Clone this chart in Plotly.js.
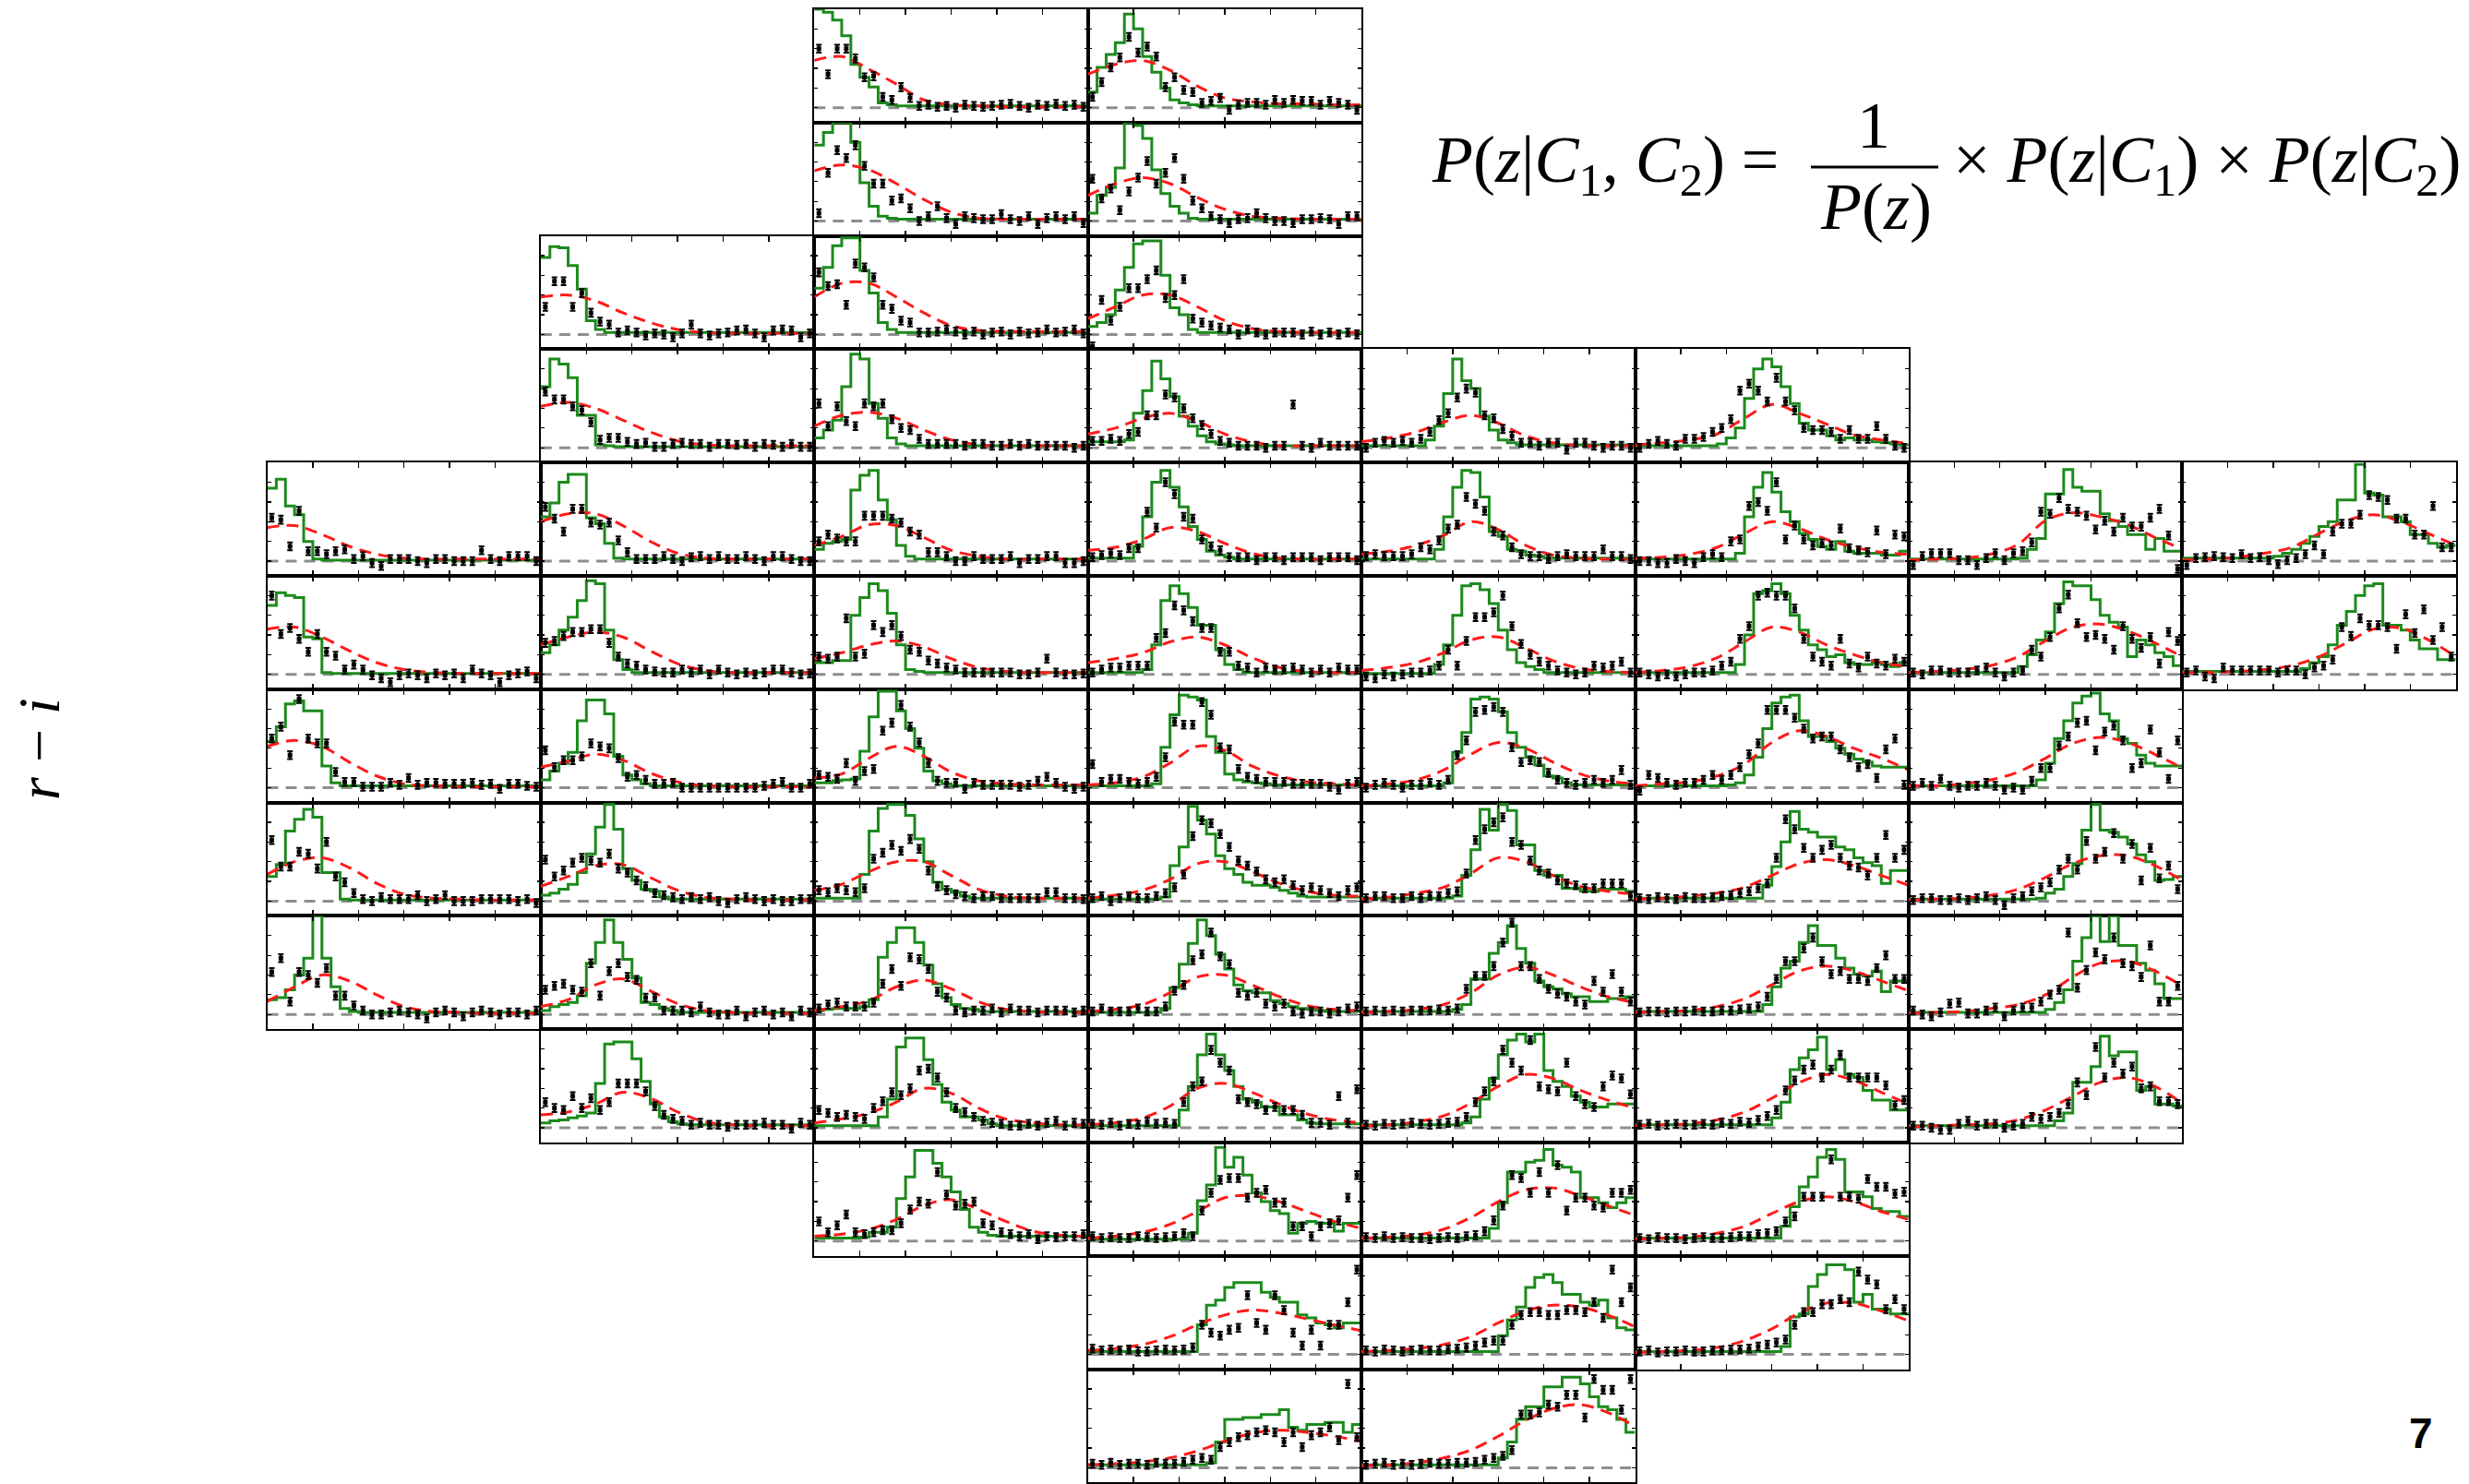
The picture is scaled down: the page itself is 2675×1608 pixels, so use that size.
<!DOCTYPE html>
<html><head><meta charset="utf-8">
<script src="https://cdn.plot.ly/plotly-3.0.1.min.js"></script>
<style>html,body{margin:0;padding:0;background:#fff;}#chart{width:2675px;height:1608px;}</style>
</head><body><div id="chart"></div>
<script>
// Panel grid: for each colour row, first and last occupied colour column
const rowStart = [2,2,1,1,0,0,0,0,0,1,2,3,3];
const rowEnd   = [3,3,3,5,7,7,6,6,6,6,5,5,4];

// Redshift axis
const zEdges = Array.from({length:31}, (_, i) => +(i*0.1).toFixed(1));
const zCenters = Array.from({length:30}, (_, i) => +(0.05 + i*0.1).toFixed(2));
const zModel = [0,0.3,0.6,0.9,1.2,1.5,1.8,2.1,2.4,2.7,3.0];

// Green histograms (row-major panel order)
const greenCounts = [
[100,97,89,73,44,31,21,5,3,2, 2,2,2,2,2,2,2,2,2,2, 2,2,2,2,2,2,2,2,2,2],
[16,41,54,66,95,80,52,36,20,8, 5,3,2,2,2,2,2,2,2,2, 2,2,2,2,2,2,2,2,2,2],
[77,90,100,100,80,39,15,5,3,2, 2,2,2,2,2,2,2,2,2,2, 2,2,2,2,2,2,2,2,2,2],
[8,26,34,54,100,97,84,52,28,15, 8,3,2,2,2,2,2,2,2,2, 2,2,2,2,2,2,2,2,2,2],
[78,89,88,70,46,14,5,2,2,2, 2,2,2,2,2,2,2,2,2,2, 2,2,2,2,2,2,2,2,2,2],
[47,68,90,98,98,65,42,12,5,2, 2,2,2,2,2,2,2,2,2,2, 2,2,2,2,2,2,2,2,2,2],
[8,12,20,45,68,92,95,95,60,27, 20,5,2,2,2,2,2,2,2,2, 2,2,2,2,2,2,2,2,2,2],
[62,90,85,71,33,33,3,2,1,1, 1,1,1,1,1,1,1,1,1,1, 1,1,1,1,1,1,1,1,1,1],
[10,18,28,62,95,90,45,30,10,4, 2,2,2,2,2,2,2,2,2,2, 2,2,2,2,2,2,2,2,2,2],
[6,6,6,6,8,35,58,88,70,52, 32,22,12,6,4,3,2,2,2,2, 2,2,2,2,2,2,2,2,2,2],
[2,2,2,2,2,2,2,8,22,55, 90,68,60,32,18,8,5,3,3,3, 3,3,3,3,3,3,3,3,3,3],
[2,2,2,2,2,2,2,2,2,4, 10,20,50,80,90,82,62,45,25,18, 18,12,8,10,8,8,6,5,4,3],
[74,83,56,47,20,2,1,1,1,1, 1,1,1,1,1,1,1,1,1,1, 1,1,1,1,1,1,1,1,1,1],
[45,59,80,88,88,44,38,18,3,2, 2,2,2,2,2,2,2,2,2,2, 2,2,2,2,2,2,2,2,2,2],
[12,18,20,22,72,87,92,62,42,16, 5,2,2,2,2,2,2,2,2,2, 2,2,2,2,2,2,2,2,2,2],
[3,3,3,3,3,15,45,80,92,75, 55,35,22,10,6,4,2,2,2,2, 2,2,2,2,2,2,2,2,2,2],
[2,2,2,2,2,2,2,2,12,45, 75,92,90,65,30,25,12,10,6,5, 3,3,3,3,3,3,3,3,3,3],
[2,2,2,2,2,2,2,2,2,2, 2,8,45,75,90,70,50,40,28,22, 15,12,20,10,8,8,8,6,6,10],
[2,2,2,2,2,2,2,2,2,2, 2,2,3,12,23,68,68,93,75,71, 71,48,41,35,27,27,12,23,10,10],
[3,3,3,3,3,3,3,3,3,3, 5,8,12,18,25,35,40,62,62,98, 69,67,45,45,40,27,27,18,14,16],
[70,83,80,78,38,36,2,1,1,1, 1,1,1,1,1,1,1,1,1,1, 1,1,1,1,1,1,1,1,1,1],
[22,30,45,58,75,95,92,45,15,5, 2,2,2,2,2,2,2,2,2,2, 2,2,2,2,2,2,2,2,2,2],
[12,12,14,14,60,78,92,85,62,30, 5,3,2,2,2,2,2,2,2,2, 2,2,2,2,2,2,2,2,2,2],
[2,2,2,2,2,2,5,30,75,90, 82,68,50,50,25,10,5,2,2,2, 2,2,2,2,2,2,2,2,2,2],
[1,1,1,1,1,1,1,1,10,30, 60,90,92,86,72,45,25,12,8,5, 2,2,2,2,2,2,2,2,2,2],
[2,2,2,2,2,2,2,2,2,2, 2,10,40,82,85,92,82,60,45,30, 25,18,20,12,10,10,12,10,8,12],
[2,2,2,2,2,2,2,2,2,2, 2,2,8,20,35,43,72,94,90,90, 76,60,53,48,18,35,30,22,18,9],
[3,3,3,3,3,3,3,3,3,3, 3,3,3,6,12,18,30,50,64,80, 90,92,50,50,45,35,26,26,15,15],
[47,62,85,88,78,78,22,5,2,2, 2,2,2,2,2,2,2,2,2,2, 2,2,2,2,2,2,2,2,2,2],
[8,17,25,36,68,89,89,75,32,13, 8,4,2,2,2,2,2,2,2,2, 2,2,2,2,2,2,2,2,2,2],
[5,5,7,8,9,37,72,98,98,78, 60,40,17,7,4,2,2,2,2,2, 2,2,2,2,2,2,2,2,2,2],
[2,2,2,2,2,2,2,4,41,74, 94,92,89,52,36,14,8,6,5,4, 3,3,3,3,3,3,3,3,3,3],
[2,2,2,2,2,2,2,2,2,5, 36,56,90,92,90,77,56,41,31,23, 12,10,5,3,3,3,3,3,3,3],
[2,2,2,2,2,2,2,2,2,2, 3,5,13,31,60,86,92,94,68,52, 52,47,40,34,29,26,22,21,21,21],
[2,2,2,2,2,2,2,2,2,2, 2,2,2,2,8,25,50,68,86,93, 96,75,68,50,45,33,25,22,22,22],
[25,37,71,83,93,85,29,29,2,1, 1,1,1,1,1,1,1,1,1,1, 1,1,1,1,1,1,1,1,1,1],
[6,8,12,17,29,48,75,98,73,33, 21,12,10,4,2,2,2,2,2,2, 2,2,2,2,2,2,2,2,2,2],
[3,3,3,3,3,27,71,94,98,98, 87,63,40,19,12,9,5,3,3,3, 3,3,3,3,3,3,3,3,3,3],
[2,2,2,2,2,2,2,2,4,36, 55,96,82,68,46,33,27,19,16,16, 14,11,8,5,4,4,4,4,4,4],
[3,3,3,3,3,3,3,3,3,3, 5,26,52,93,72,98,92,57,57,31, 26,26,13,13,10,10,12,12,12,10],
[3,3,3,3,3,3,3,3,3,3, 3,3,3,3,16,35,60,91,73,70, 65,65,55,52,44,39,36,18,31,31],
[2,2,2,2,2,2,2,2,2,2, 2,2,2,2,3,8,12,25,38,72, 98,72,70,65,58,47,40,21,22,25],
[15,17,25,40,57,100,57,28,6,3, 2,2,2,2,2,2,2,2,2,2, 2,2,2,2,2,2,2,2,2,2],
[4,8,10,12,19,52,73,96,73,56, 37,12,10,6,4,2,2,2,2,2, 2,2,2,2,2,2,2,2,2,2],
[4,5,6,6,6,8,15,58,73,88, 88,73,50,31,17,10,6,5,3,3, 3,3,3,3,3,3,3,3,3,3],
[2,2,2,2,2,2,2,2,6,27, 51,72,96,80,61,46,30,24,22,22, 14,11,8,6,5,4,3,3,3,3],
[3,3,3,3,3,3,3,3,3,3, 5,10,36,36,62,73,90,67,52,34, 28,26,21,18,18,13,13,16,16,18],
[3,3,3,3,3,3,3,3,3,3, 3,3,3,3,10,28,47,54,73,90, 70,70,57,47,41,39,44,23,34,34],
[2,2,2,2,2,2,2,2,2,2, 2,2,2,2,2,5,12,25,54,78, 100,74,100,70,70,52,45,31,16,16],
[5,7,8,10,12,15,45,85,87,87, 70,47,24,11,6,4,3,3,3,3, 3,3,3,3,3,3,3,3,3,3],
[2,2,2,2,2,2,2,11,29,82, 91,91,69,44,26,18,11,11,8,4, 2,2,2,2,2,2,2,2,2,2],
[2,2,2,2,2,2,2,2,2,2, 18,42,74,95,74,58,42,29,26,21, 21,13,13,8,5,4,4,4,4,4],
[3,3,3,3,3,3,3,3,3,3, 3,5,11,29,50,74,89,95,87,95, 58,47,42,32,26,21,21,24,24,24],
[3,3,3,3,3,3,3,3,3,3, 3,3,3,3,3,10,26,59,71,79, 92,59,69,54,51,38,28,28,18,18],
[2,2,2,2,2,2,2,2,2,2, 2,2,2,2,2,2,7,15,46,46, 62,93,73,77,77,38,42,24,24,22],
[3,3,3,3,3,4,9,9,14,43, 65,92,92,79,65,50,32,14,9,6, 5,5,5,5,5,5,5,5,5,5],
[2,2,2,2,2,2,2,2,2,2, 2,8,41,57,95,75,85,67,49,40, 31,28,8,18,20,18,18,10,18,18],
[3,3,3,3,3,3,3,3,3,3, 3,3,3,3,13,39,70,70,80,82, 93,77,75,70,44,44,39,34,39,44],
[3,3,3,3,3,3,3,3,3,3, 3,3,3,3,3,3,15,35,55,65, 85,93,83,50,50,45,33,30,30,25],
[3,3,3,3,3,3,3,3,3,3, 3,3,30,50,55,68,73,73,73,63, 58,53,53,40,37,32,30,27,32,32],
[3,3,3,3,3,3,3,3,3,3, 3,3,3,3,3,19,35,48,68,78, 81,73,61,61,53,50,55,37,27,25],
[3,3,3,3,3,3,3,3,3,3, 3,3,3,3,3,3,8,38,41,69, 81,91,91,86,53,61,46,46,41,41],
[3,3,3,3,3,3,3,3,3,3, 3,3,3,5,26,49,49,51,51,54, 54,59,41,38,44,44,46,46,36,44],
[3,3,3,3,3,3,3,3,3,3, 3,3,3,3,3,10,26,49,62,62, 82,82,92,92,85,72,62,59,49,36]
];

// Black points with error bars
const blackPoints = [
[60,34,60,60,50,31,32,11,8,21, 10,2,3,1,2,0,3,2,1,2, 3,4,2,0,3,2,4,2,3,1],
[11,26,41,51,72,56,62,52,21,31, 18,16,5,7,10,-2,3,5,5,3, 8,5,8,7,7,3,7,5,3,-2],
[8,49,72,64,77,56,38,38,21,23, 13,0,5,15,3,-3,5,3,2,2, 7,2,0,5,-3,3,5,2,5,-2],
[43,23,33,11,30,44,61,38,49,64, 43,21,13,5,2,-2,2,3,8,3, 0,0,-2,2,2,3,2,-3,5,5],
[28,54,54,28,42,22,13,10,2,4, 2,-1,1,0,-3,1,10,1,-1,1, 2,4,5,1,-3,4,5,4,-3,1],
[63,49,51,30,72,68,58,30,26,14, 12,2,2,3,5,3,0,3,0,2, 3,0,3,1,2,5,2,3,5,1],
[-12,35,14,28,47,47,56,65,37,40, 56,16,12,9,7,5,0,5,2,0, 2,2,2,0,3,0,2,0,2,0],
[57,49,49,42,38,26,8,10,10,6, 4,5,1,1,4,5,4,4,1,4, 4,3,4,1,4,3,1,4,1,1],
[45,22,42,27,22,45,42,45,29,20, 18,9,4,4,4,4,2,4,4,2, 2,4,2,4,2,2,2,2,0,2],
[7,7,9,7,14,16,33,33,54,51, 40,30,23,14,7,5,2,2,2,0, 2,2,44,2,0,5,2,2,2,2],
[0,5,7,5,7,5,9,16,28,35, 51,60,56,33,30,19,12,5,5,2, 5,5,-2,5,5,2,0,2,2,0],
[0,4,7,4,2,9,9,11,16,20, 29,58,65,58,47,71,47,38,20,18, 18,16,9,18,9,9,22,9,2,0],
[44,42,15,51,10,10,7,10,12,2, 5,-2,-5,2,2,2,0,-2,2,2, 0,0,0,11,2,0,5,5,5,0],
[55,43,30,53,53,39,37,39,21,9, 2,2,2,5,2,0,4,5,2,5, 2,2,5,2,0,5,5,2,0,0],
[20,27,23,20,20,46,46,46,43,39, 30,27,9,9,5,0,0,5,2,2, 2,5,-2,2,2,5,5,-2,-2,0],
[4,6,8,6,13,13,50,34,80,68, 45,43,22,15,11,4,4,4,1,4, 4,1,4,4,4,1,4,4,4,1],
[5,7,5,5,5,7,14,12,21,33, 37,65,58,51,30,26,14,7,5,5, 2,5,7,5,5,5,12,5,5,2],
[0,0,-2,-2,2,0,-2,4,7,4, 20,22,56,60,51,80,22,36,22,16, 18,16,33,13,11,9,31,7,27,25],
[-4,5,8,8,8,1,1,-4,3,8, 1,8,10,19,50,48,64,53,50,46, 32,41,30,44,35,35,44,53,26,-8],
[-4,3,4,5,4,3,7,3,4,1, -3,1,3,7,16,7,30,38,38,47, 67,65,62,43,43,27,27,56,14,14],
[80,41,47,36,23,41,23,19,5,10, 5,-1,-4,-8,-1,1,-1,-4,1,-1, 1,-4,5,1,-1,-8,-1,1,3,-4],
[32,34,39,43,43,46,46,32,18,11, 9,5,3,2,2,5,2,5,0,5, 2,0,2,0,2,5,5,2,0,1],
[18,16,18,57,18,21,50,43,50,39, 25,23,14,11,7,5,2,2,2,2, 2,2,0,0,2,16,2,0,0,1],
[2,5,7,7,9,9,9,37,42,70, 65,54,47,47,23,23,9,7,2,7, 5,5,7,5,2,5,2,7,5,5],
[-2,-4,0,-2,0,2,2,4,9,25, 9,34,58,58,63,80,49,31,20,13, 9,4,2,0,2,9,7,9,13,2],
[2,0,-2,0,-2,0,2,2,4,9, 13,36,49,80,83,80,80,67,36,18, 13,9,36,11,7,18,11,9,16,13],
[2,0,4,4,2,2,2,4,7,2, -2,2,4,25,18,38,67,81,52,38, 40,36,25,49,36,27,38,11,43,34],
[2,4,-2,-4,7,4,4,4,4,4, 2,4,4,0,7,9,15,48,39,57, 50,50,48,26,61,42,66,35,48,18],
[50,62,33,90,50,45,45,16,6,6, 1,1,1,5,3,10,3,5,5,4, 4,4,5,3,4,-1,4,4,2,1],
[38,21,28,28,32,45,42,40,30,11, 13,8,4,4,5,0,0,0,0,0, 0,0,0,0,2,4,6,0,0,4],
[13,11,9,25,7,17,19,58,66,84, 62,46,25,7,5,5,-1,5,3,3, 3,3,1,3,7,11,5,1,-1,1],
[24,6,9,9,6,4,6,11,31,67, 64,64,87,74,41,39,19,11,9,6, 6,6,4,4,4,4,1,-2,4,6],
[0,3,5,3,0,3,3,5,3,8, 33,48,77,79,82,77,41,26,28,26, 15,8,5,3,5,8,5,8,18,3],
[-3,13,10,5,3,5,5,8,13,8, 13,21,34,45,79,79,79,71,60,50, 52,52,39,31,21,24,10,39,50,3],
[2,5,2,9,2,0,2,2,5,2, -2,0,-2,7,20,20,43,52,66,68, 38,57,63,48,20,25,59,36,9,48],
[62,35,35,50,48,33,60,25,19,8, 2,0,4,2,2,2,6,0,2,6, 0,0,0,2,2,2,2,0,2,-2],
[42,25,31,39,44,41,39,48,33,29, 21,15,8,6,4,2,4,2,4,0, -2,2,4,2,0,2,0,0,2,2],
[11,9,13,11,9,13,43,49,57,51, 63,53,31,15,11,7,5,3,5,5, 3,3,3,3,3,9,9,3,3,2],
[3,5,0,3,5,3,3,5,8,14, 27,66,82,79,68,55,41,36,30,22, 19,22,16,11,14,11,8,5,11,14],
[3,5,5,3,3,5,3,5,5,8, 10,28,62,73,80,85,60,57,41,31, 28,21,18,16,13,13,18,18,18,5],
[3,2,4,3,2,4,3,3,4,5, 6,8,10,13,18,44,83,73,54,44, 52,57,44,36,34,26,44,67,44,52],
[1,3,3,1,1,3,1,3,5,1, -4,3,5,10,14,19,32,43,32,61, 43,50,69,43,58,21,54,23,36,12],
[43,57,13,43,40,32,47,19,19,9, 4,0,0,2,4,2,0,-4,2,4, 2,-2,2,4,2,0,2,2,0,4],
[25,29,31,25,23,52,19,44,52,38, 35,17,17,4,4,4,2,8,2,0, 0,4,-2,2,4,0,2,-2,4,2],
[6,10,12,8,8,8,12,31,46,29, 58,56,46,23,17,4,2,4,4,6, 2,6,4,4,2,4,4,4,2,4],
[3,6,3,3,3,6,3,3,8,24, 30,55,61,83,59,51,22,19,22,11, 8,11,3,1,3,3,1,3,6,8],
[3,4,3,4,3,4,4,4,5,4, 6,26,39,39,49,73,93,49,49,36, 26,21,18,13,10,34,23,41,23,13],
[2,3,3,2,3,3,4,3,3,4, 4,5,6,8,18,36,54,54,67,78, 54,41,44,36,36,34,47,60,36,36],
[4,0,-2,2,11,12,1,1,4,7, -2,4,7,7,13,20,25,83,27,45, 63,56,78,52,49,38,70,13,13,29],
[26,20,18,32,20,30,18,26,45,45, 45,37,22,13,9,7,3,5,3,3, 1,3,3,3,5,3,3,-1,5,3],
[18,15,11,13,11,9,20,27,36,33, 40,58,60,51,36,20,16,11,7,5, 4,2,2,4,2,5,7,2,5,4],
[4,3,5,2,4,3,6,4,5,4, 26,42,47,79,66,58,29,26,24,18, 21,18,18,13,5,5,3,32,5,39],
[3,2,4,3,4,5,4,3,4,5, 6,11,26,37,47,79,66,58,89,42, 39,37,66,32,24,21,42,53,50,34],
[3,4,2,3,4,3,3,4,3,5, 4,6,5,8,12,18,38,48,59,64, 51,59,74,51,51,51,51,43,23,28],
[2,2,0,-2,-2,4,7,2,4,4, 0,2,4,11,9,11,15,24,46,33, 82,51,66,55,62,40,42,27,27,24],
[20,9,16,27,9,7,9,11,11,18, 32,40,38,70,47,36,38,40,18,16, 9,7,5,7,2,5,4,5,5,7],
[5,3,4,3,3,5,4,3,4,5, 8,5,31,49,62,64,64,44,49,52, 39,39,15,15,5,15,18,21,44,67],
[4,3,5,3,4,3,3,2,3,4, 3,5,6,10,21,36,67,64,49,70, 49,77,31,44,44,36,34,49,49,52],
[3,2,4,3,3,2,3,4,3,3, 4,5,5,7,8,10,20,25,45,45, 45,83,45,45,43,63,55,55,48,50],
[6,4,5,4,5,3,3,4,5,4, 5,7,30,22,19,25,27,60,32,25, 60,45,22,9,25,9,30,30,53,86],
[4,3,5,4,3,4,5,4,4,5, 6,7,9,12,14,14,30,40,43,43, 40,40,45,45,43,53,37,86,53,68],
[3,4,2,3,3,4,3,3,4,4, 5,5,6,8,10,12,15,30,43,43, 51,51,56,53,84,76,71,46,56,46],
[4,3,5,3,4,4,3,5,4,4, 6,8,10,8,21,26,31,33,36,38, 36,26,36,21,33,36,41,28,85,31],
[3,4,5,3,4,3,4,5,4,4, 5,5,6,8,10,12,18,54,54,56, 64,62,74,74,51,90,79,79,59,90]
];

// Red dashed model curves, sampled at zModel
const redModel = [
[48,52,39,24,8,3,2,1,1,1,1],
[34,44,48,38,22,10,6,4,4,3,3],
[51,57,52,38,22,9,3,2,2,2,2],
[26,38,44,38,24,12,5,3,2,2,2],
[38,40,34,22,12,5,2,1,1,1,1],
[38,52,52,38,22,9,4,3,3,3,3],
[16,28,40,40,28,14,6,3,2,2,2],
[42,46,40,28,16,7,3,2,2,2,2],
[22,33,36,30,18,8,3,2,2,2,2],
[14,20,30,35,27,14,6,2,2,2,2],
[6,10,16,26,33,25,12,5,2,2,2],
[3,5,8,14,30,44,35,24,13,8,4],
[34,36,27,15,7,3,2,2,2,2,2],
[40,48,48,36,20,8,3,2,2,2,2],
[16,25,37,36,24,11,5,2,2,2,2],
[11,14,22,34,30,18,8,3,2,2,2],
[7,10,16,26,40,32,16,6,3,2,2],
[3,4,7,14,28,40,33,22,14,9,7],
[1,2,3,7,17,41,49,45,37,24,12],
[1,2,4,8,14,28,41,47,40,28,16],
[46,48,38,24,12,5,2,1,1,1,1],
[30,38,43,38,24,11,4,2,2,2,2],
[16,22,30,34,28,16,7,3,2,2,2],
[12,16,22,33,38,30,17,7,3,2,2],
[4,7,12,22,35,38,27,14,6,3,2],
[2,4,8,17,33,48,43,30,20,12,8],
[2,3,5,9,18,34,48,51,44,32,18],
[2,2,3,5,9,18,32,46,47,35,18],
[42,48,42,26,12,4,2,1,1,1,1],
[21,27,34,28,15,6,2,1,1,1,1],
[10,14,30,42,32,16,7,4,3,3,3],
[3,5,11,25,42,38,22,12,6,4,3],
[2,4,8,18,34,46,40,26,14,7,4],
[2,4,6,12,24,46,58,52,40,30,18],
[2,2,4,8,16,30,45,51,46,34,20],
[27,40,44,34,18,7,3,2,1,1,1],
[15,25,36,37,24,11,4,2,1,1,1],
[11,17,30,40,40,26,12,5,3,3,3],
[3,6,11,22,38,40,30,18,10,6,5],
[2,4,8,14,28,44,40,26,15,10,7],
[2,3,5,8,14,26,38,42,36,26,16],
[1,2,3,6,12,24,38,46,46,36,21],
[13,28,40,34,20,8,3,2,1,1,1],
[8,15,30,36,24,11,4,2,1,1,1],
[4,8,14,28,35,26,13,5,3,2,2],
[3,5,10,22,38,40,30,18,9,5,4],
[2,3,5,10,22,40,48,40,28,18,12],
[2,3,4,8,16,30,44,49,44,34,24],
[1,2,3,6,10,20,38,52,54,44,29],
[13,16,24,36,30,16,6,3,2,2,2],
[5,9,15,26,40,35,20,9,5,3,3],
[3,5,10,22,40,45,36,24,14,8,5],
[2,3,6,12,25,42,54,50,38,28,20],
[2,3,4,8,16,30,46,54,48,36,24],
[1,2,3,4,8,18,32,46,51,42,25],
[5,7,12,22,36,42,32,20,10,6,5],
[3,5,9,17,30,44,46,40,30,20,13],
[3,4,6,12,24,40,52,54,46,36,26],
[2,3,4,8,15,28,40,45,40,30,22],
[4,6,10,18,30,40,45,42,36,30,24],
[3,4,6,10,18,32,44,50,48,40,28],
[2,3,4,7,14,26,42,52,52,44,34],
[3,4,6,10,17,27,35,38,36,32,27],
[2,3,5,10,18,32,48,60,64,56,42]
];

// ---- layout geometry ----
const W = 2675, H = 1608;
const GX0 = 289.5, GCW = 296.4, GY0 = 10, GRH = 122.8;

const traces = [];
const layout = {
  width: W, height: H,
  margin: {l:0, r:0, t:0, b:0},
  paper_bgcolor: '#fff', plot_bgcolor: '#fff',
  showlegend: false,
  shapes: [], annotations: []
};

let k = 0;
for (let r = 0; r < rowStart.length; r++) {
  for (let c = rowStart[r]; c <= rowEnd[r]; c++) {
    const n = k + 1;
    const xa = n === 1 ? 'x' : 'x' + n;
    const ya = n === 1 ? 'y' : 'y' + n;
    const xKey = n === 1 ? 'xaxis' : 'xaxis' + n;
    const yKey = n === 1 ? 'yaxis' : 'yaxis' + n;
    const x0 = (GX0 + c*GCW) / W, x1 = (GX0 + (c+1)*GCW) / W;
    const yTop = 1 - (GY0 + r*GRH) / H, yBot = 1 - (GY0 + (r+1)*GRH) / H;
    const axCommon = {
      showticklabels: false, ticks: 'inside', tickcolor: '#000',
      showline: true, linecolor: '#000', linewidth: 2, mirror: 'ticks',
      showgrid: false, zeroline: false, fixedrange: true
    };
    layout[xKey] = Object.assign({}, axCommon, {domain: [x0, x1], range: [0, 3], tick0: 0, dtick: 0.5, ticklen: 6, tickwidth: 1.5, anchor: ya});
    layout[yKey] = Object.assign({}, axCommon, {domain: [yBot, yTop], range: [-15, 100], tick0: 0, dtick: 20, ticklen: 4, tickwidth: 1.2, anchor: xa});

    // grey dashed zero level
    layout.shapes.push({type: 'line', xref: xa + ' domain', yref: ya, x0: 0, x1: 1, y0: 0, y1: 0,
      line: {color: '#8e8e8e', width: 3, dash: '12px,8px'}, layer: 'below'});

    const g = greenCounts[k];
    traces.push({x: zEdges, y: g.concat([g[g.length-1]]), xaxis: xa, yaxis: ya, type: 'scatter', mode: 'lines',
      line: {shape: 'hv', color: '#1c8a1c', width: 3}, hoverinfo: 'skip'});
    traces.push({x: zModel, y: redModel[k], xaxis: xa, yaxis: ya, type: 'scatter', mode: 'lines',
      line: {shape: 'spline', smoothing: 1, color: '#ff1a1a', width: 3, dash: '13px,8px'}, hoverinfo: 'skip'});
    traces.push({x: zCenters, y: blackPoints[k], xaxis: xa, yaxis: ya, type: 'scatter', mode: 'markers',
      marker: {color: '#000', size: 5, symbol: 'square'},
      error_y: {type: 'constant', value: 4, color: '#000', thickness: 2, width: 3}, hoverinfo: 'skip'});
    k++;
  }
}

// ---- texts ----
const px = v => v / W, py = v => 1 - v / H;
const serif = 'Liberation Serif, Times New Roman, serif';
const fSize = 72;
layout.annotations.push(
  {xref:'paper', yref:'paper', x: px(1549), y: py(178), xanchor:'left', yanchor:'middle', showarrow:false,
   text:'<i>P</i>(<i>z</i>|<i>C</i><sub>1</sub>, <i>C</i><sub>2</sub>) =', font:{family: serif, size: fSize, color:'#000'}},
  {xref:'paper', yref:'paper', x: px(2030), y: py(136), xanchor:'center', yanchor:'middle', showarrow:false,
   text:'1', font:{family: serif, size: fSize, color:'#000'}},
  {xref:'paper', yref:'paper', x: px(2032), y: py(224), xanchor:'center', yanchor:'middle', showarrow:false,
   text:'<i>P</i>(<i>z</i>)', font:{family: serif, size: fSize, color:'#000'}},
  {xref:'paper', yref:'paper', x: px(2114), y: py(178), xanchor:'left', yanchor:'middle', showarrow:false,
   text:'× <i>P</i>(<i>z</i>|<i>C</i><sub>1</sub>) × <i>P</i>(<i>z</i>|<i>C</i><sub>2</sub>)', font:{family: serif, size: fSize, color:'#000'}},
  {xref:'paper', yref:'paper', x: px(42), y: py(812), xanchor:'center', yanchor:'middle', showarrow:false, textangle: -90,
   text:'<i>r</i> − <i>i</i>', font:{family: serif, size: 64, color:'#000'}},
  {xref:'paper', yref:'paper', x: px(2623), y: py(1553), xanchor:'center', yanchor:'middle', showarrow:false,
   text:'<b>7</b>', font:{family:'Liberation Sans, Arial, sans-serif', size: 46, color:'#000'}}
);
layout.shapes.push({type:'line', xref:'paper', yref:'paper', x0: px(1962), x1: px(2100), y0: py(181), y1: py(181),
  line:{color:'#000', width:3}});

Plotly.newPlot('chart', traces, layout, {displayModeBar: false, staticPlot: true});
</script>
</body></html>
